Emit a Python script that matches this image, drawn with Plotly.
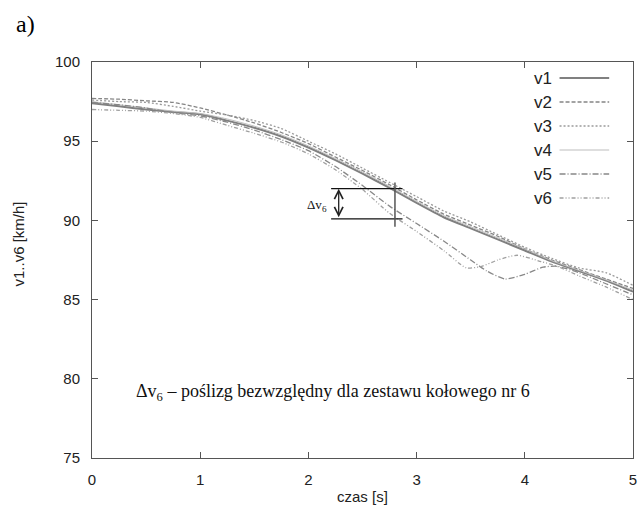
import plotly.graph_objects as go

# ---------------- data ----------------
t_main = [0, 0.25, 0.5, 0.75, 1.0, 1.25, 1.5, 1.75, 2.0, 2.25, 2.5, 2.75,
          3.0, 3.25, 3.5, 3.75, 4.0, 4.25, 4.5, 4.75, 5.0]
v1 = [97.4, 97.2, 97.0, 96.85, 96.7, 96.3, 95.85, 95.3, 94.6, 93.8, 92.95, 92.05,
      91.1, 90.2, 89.5, 88.8, 88.1, 87.4, 86.8, 86.2, 85.5]
v2 = [97.7, 97.65, 97.55, 97.45, 97.1, 96.65, 96.15, 95.55, 94.85, 94.0, 93.15, 92.25,
      91.3, 90.4, 89.7, 89.0, 88.2, 87.5, 86.9, 86.3, 85.7]
v3 = [97.6, 97.5, 97.45, 97.2, 96.9, 96.65, 96.3, 95.8, 95.0, 94.2, 93.3, 92.4,
      91.5, 90.6, 89.9, 89.1, 88.3, 87.6, 87.0, 86.7, 85.9]
v4 = [97.5, 97.3, 97.1, 96.9, 96.75, 96.4, 95.95, 95.4, 94.7, 93.9, 93.05, 92.15,
      91.2, 90.3, 89.6, 88.9, 88.2, 87.45, 86.85, 86.25, 85.6]

t_v5 = [0, 0.25, 0.5, 0.75, 1.0, 1.25, 1.5, 1.75, 2.0, 2.25, 2.5, 2.75,
        3.0, 3.25, 3.5, 3.65, 3.82, 4.0, 4.17, 4.3, 4.5, 4.75, 5.0]
v5 = [97.45, 97.3, 97.1, 96.8, 96.6, 96.2, 95.7, 95.1, 94.4, 93.4, 92.2, 90.9,
      89.8, 88.7, 87.5, 86.8, 86.3, 86.6, 87.05, 87.1, 86.7, 86.0, 85.3]

t_v6 = [0, 0.25, 0.5, 0.75, 1.0, 1.25, 1.5, 1.75, 2.0, 2.25, 2.5, 2.75,
        3.0, 3.25, 3.46, 3.6, 3.75, 3.93, 4.15, 4.3, 4.5, 4.75, 5.0]
v6 = [97.0, 96.95, 96.9, 96.75, 96.5, 96.0, 95.5, 94.95, 94.2, 93.2, 91.95, 90.45,
      89.3, 88.1, 87.0, 87.1, 87.5, 87.8, 87.4, 87.1, 86.5, 85.8, 85.0]

series_names = ["v1", "v2", "v3", "v4", "v5", "v6"]

# Δv6 marker (data units)
dv_t_left, dv_t_right, dv_t_cut = 2.21, 2.87, 2.80
dv_upper, dv_lower = 92.0, 90.1
dv_cut_top, dv_cut_bottom = 92.4, 89.6
dv_arrow_t = 2.28

# ---------------- styles ----------------
styles = {
    "v1": dict(color="#808080", width=2.0, dash="solid"),
    "v2": dict(color="#858585", width=1.3, dash="4px,2px"),
    "v3": dict(color="#9a9a9a", width=1.3, dash="2px,2px"),
    "v4": dict(color="#bdbdbd", width=1.0, dash="solid"),
    "v5": dict(color="#888888", width=1.3, dash="6px,2px,1px,2px"),
    "v6": dict(color="#a0a0a0", width=1.3, dash="4px,2px,1px,2px,1px,2px"),
}
data_map = {"v1": (t_main, v1), "v2": (t_main, v2), "v3": (t_main, v3),
            "v4": (t_main, v4), "v5": (t_v5, v5), "v6": (t_v6, v6)}

fig = go.Figure()
for name in series_names:
    xs, ys = data_map[name]
    fig.add_trace(go.Scatter(x=xs, y=ys, mode="lines", name=name,
                             line=dict(shape="spline", smoothing=0.6, **styles[name]),
                             showlegend=False))

W, H = 643, 506
ml, mr, mt, mb = 92, 6, 62, 48
pw, ph = W - ml - mr, H - mt - mb

def px2paper_x(px):
    return (px - ml) / pw

def py2paper_y(py):
    return (H - mb - py) / ph

shapes = []
annotations = []

# manual legend (text left, sample line right)
leg_y0 = 78
for i, name in enumerate(series_names):
    py = leg_y0 + i * 24
    annotations.append(dict(x=px2paper_x(557), y=py2paper_y(py), xref="paper", yref="paper",
                            text=name, showarrow=False, xanchor="right", yanchor="middle",
                            font=dict(family="Liberation Sans, Arial", size=17, color="#222")))
    st = styles[name]
    shapes.append(dict(type="line", xref="paper", yref="paper",
                       x0=px2paper_x(563), x1=px2paper_x(613),
                       y0=py2paper_y(py), y1=py2paper_y(py),
                       line=dict(color=st["color"], width=st["width"], dash=st["dash"])))

# Δv6 construction lines
for yv in (dv_upper, dv_lower):
    shapes.append(dict(type="line", xref="x", yref="y", x0=dv_t_left, x1=dv_t_right,
                       y0=yv, y1=yv, line=dict(color="#111", width=1.2)))
shapes.append(dict(type="line", xref="x", yref="y", x0=dv_t_cut, x1=dv_t_cut,
                   y0=dv_cut_bottom, y1=dv_cut_top, line=dict(color="#555", width=1.5)))

annotations.append(dict(x=dv_arrow_t, y=dv_upper, ax=dv_arrow_t, ay=dv_lower,
                        xref="x", yref="y", axref="x", ayref="y", text="",
                        showarrow=True, arrowhead=5, arrowside="end+start",
                        arrowsize=1.3, arrowwidth=1.3, arrowcolor="#222",
                        startarrowhead=5, startarrowsize=1.3))
annotations.append(dict(x=px2paper_x(331), y=py2paper_y(205), xref="paper", yref="paper",
                        text="Δv<sub>6</sub>", showarrow=False, xanchor="right",
                        font=dict(family="Liberation Serif, Times New Roman", size=13, color="#111")))
annotations.append(dict(x=px2paper_x(134), y=py2paper_y(392), xref="paper", yref="paper",
                        text="Δv<sub>6</sub> – poślizg bezwzględny dla zestawu kołowego nr 6",
                        showarrow=False, xanchor="left", yanchor="middle",
                        font=dict(family="Liberation Serif, Times New Roman", size=18, color="#111")))
annotations.append(dict(x=px2paper_x(13), y=py2paper_y(24), xref="paper", yref="paper",
                        text="a)", showarrow=False, xanchor="left", yanchor="middle",
                        font=dict(family="Liberation Serif, Times New Roman", size=24, color="#000")))
annotations.append(dict(x=px2paper_x(18), y=py2paper_y(244), xref="paper", yref="paper",
                        text="v1..v6 [km/h]", showarrow=False, textangle=-90,
                        xanchor="center", yanchor="middle",
                        font=dict(family="Liberation Sans, Arial", size=15, color="#222")))
annotations.append(dict(x=px2paper_x(365), y=py2paper_y(497), xref="paper", yref="paper",
                        text="czas [s]", showarrow=False, xanchor="center", yanchor="middle",
                        font=dict(family="Liberation Sans, Arial", size=15, color="#222")))

axis_common = dict(showgrid=False, zeroline=False, showline=True, linecolor="#555",
                   linewidth=1, mirror="ticks", ticks="inside", ticklen=6,
                   tickcolor="#555", tickwidth=1,
                   tickfont=dict(family="Liberation Sans, Arial", size=15, color="#222"))

fig.update_layout(
    width=W, height=H,
    margin=dict(l=ml, r=mr, t=mt, b=mb),
    paper_bgcolor="white", plot_bgcolor="white",
    xaxis=dict(range=[0, 5], tickvals=[0, 1, 2, 3, 4, 5], ticklabelstandoff=8, **axis_common),
    yaxis=dict(range=[75, 100], tickvals=[75, 80, 85, 90, 95, 100], ticklabelstandoff=8, **axis_common),
    shapes=shapes, annotations=annotations,
)

fig.write_html("out.html")
